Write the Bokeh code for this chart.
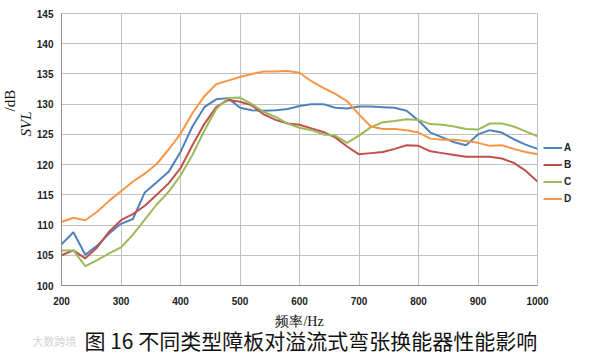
import math
from bokeh.plotting import figure
from bokeh.models import Range1d, FixedTicker, Label, Legend, LegendItem, Title
from bokeh.core.properties import value
from bokeh.embed import file_html
from bokeh.resources import INLINE

# ---- data ----
freq = list(range(200, 1001, 20))

a_svl = [106.8, 108.8, 105.1, 106.6, 108.6, 110.2, 111.0, 115.4, 117.1, 118.8,
         122.1, 126.3, 129.5, 130.8, 131.0, 129.4, 129.0, 128.9, 129.0, 129.2,
         129.7, 130.0, 130.0, 129.4, 129.3, 129.6, 129.6, 129.5, 129.4, 128.9,
         127.3, 125.3, 124.5, 123.7, 123.2, 125.0, 125.7, 125.3, 124.2, 123.3,
         122.6]
b_svl = [105.0, 105.8, 104.5, 106.3, 108.9, 110.8, 111.8, 113.2, 115.0, 116.9,
         119.4, 123.2, 126.7, 129.5, 130.7, 130.4, 129.8, 128.3, 127.4, 126.8,
         126.6, 126.0, 125.4, 124.5, 123.0, 121.7, 121.9, 122.1, 122.6, 123.2,
         123.1, 122.2, 121.9, 121.6, 121.3, 121.3, 121.3, 121.0, 120.3, 119.0,
         117.2]
c_svl = [105.8, 105.8, 103.2, 104.2, 105.3, 106.3, 108.4, 110.9, 113.4, 115.5,
         118.2, 121.6, 125.6, 129.2, 131.0, 131.1, 130.0, 128.7, 127.9, 126.8,
         126.1, 125.7, 125.0, 124.8, 123.6, 124.8, 126.2, 127.0, 127.2, 127.5,
         127.4, 126.7, 126.6, 126.3, 125.9, 125.8, 126.8, 126.8, 126.3, 125.5,
         124.7]
d_svl = [110.5, 111.2, 110.8, 112.2, 114.0, 115.6, 117.2, 118.5, 120.1, 122.5,
         125.1, 128.5, 131.3, 133.3, 133.9, 134.5, 135.0, 135.4, 135.4, 135.5,
         135.2, 133.8, 132.7, 131.7, 130.5, 128.3, 126.3, 125.9, 125.9, 125.7,
         125.3, 124.3, 124.1, 124.1, 123.9, 123.6, 123.1, 123.2, 122.6, 122.1,
         121.7]

series_names = ["A", "B", "C", "D"]
series_values = [a_svl, b_svl, c_svl, d_svl]
series_colors = ["#4F81BD", "#C0504D", "#9BBB59", "#F79646"]

x_ticks = [200, 300, 400, 500, 600, 700, 800, 900, 1000]
y_ticks = [100, 105, 110, 115, 120, 125, 130, 135, 140, 145]

x_title = "频率/Hz"
y_title_a = "SVL"
y_title_b = "/dB"
caption = "图 16  不同类型障板对溢流式弯张换能器性能影响"
watermark = "大数跨境"

# ---- figure ----
p = figure(frame_width=476, frame_height=272,
           min_border_left=61, min_border_right=64,
           min_border_top=13, min_border_bottom=75,
           x_range=Range1d(200, 1000), y_range=Range1d(100, 145),
           output_backend="svg", toolbar_location=None,
           background_fill_color="white", border_fill_color="white")

p.outline_line_color = "#c0c0c0"
p.outline_line_width = 1

grid_color = "#c0c0c0"
p.xgrid.ticker = FixedTicker(ticks=x_ticks)
p.ygrid.ticker = FixedTicker(ticks=y_ticks)
p.xgrid.grid_line_color = grid_color
p.ygrid.grid_line_color = grid_color
p.xgrid.grid_line_width = 1
p.ygrid.grid_line_width = 1

for ax, ticks in ((p.xaxis[0], x_ticks), (p.yaxis[0], y_ticks)):
    ax.ticker = FixedTicker(ticks=ticks)
    ax.major_tick_out = 0
    ax.major_tick_in = 0
    ax.minor_tick_out = 0
    ax.minor_tick_in = 0
    ax.axis_line_color = "#8c8c8c"
    ax.axis_line_width = 1
    ax.major_label_text_font = "Liberation Sans"
    ax.major_label_text_font_size = "10px"
    ax.major_label_text_font_style = "bold"
    ax.major_label_text_color = "#222222"

p.xaxis[0].major_label_standoff = 11
p.yaxis[0].major_label_standoff = 8

# x axis title
p.xaxis[0].axis_label = x_title
p.xaxis[0].axis_label_standoff = 6
p.xaxis[0].axis_label_text_font = "Liberation Serif"
p.xaxis[0].axis_label_text_font_size = "14px"
p.xaxis[0].axis_label_text_font_style = "normal"
p.xaxis[0].axis_label_text_color = "#111111"

renderers = []
for name, vals, col in zip(series_names, series_values, series_colors):
    r = p.line(freq, vals, line_color=col, line_width=2)
    renderers.append((name, r))

legend = Legend(items=[LegendItem(label=n, renderers=[r]) for n, r in renderers],
                location=(6, 78), orientation="vertical",
                padding=0, margin=0, spacing=0,
                glyph_width=19, glyph_height=17, label_height=17,
                label_standoff=2,
                label_text_font="Liberation Sans", label_text_font_size="10px",
                label_text_font_style="bold", label_text_color="#222222",
                border_line_color=None, background_fill_alpha=0)
p.add_layout(legend, "right")

# y axis title (SVL italic, /dB upright), rotated, in left side panel
p.add_layout(Label(x=8, y=174, x_units="screen", y_units="screen",
                   text=y_title_a, angle=math.pi / 2, text_align="right",
                   text_baseline="middle", text_font="Liberation Serif",
                   text_font_style="italic", text_font_size="15px",
                   text_color="#111111"), "left")
p.add_layout(Label(x=8, y=174, x_units="screen", y_units="screen",
                   text=y_title_b, angle=math.pi / 2, text_align="left",
                   text_baseline="middle", text_font="Liberation Serif",
                   text_font_size="15px", text_color="#111111"), "left")

# caption
cap = Title(text=caption, align="left", offset=23, standoff=-18,
            text_font="Noto Sans CJK SC", text_font_size="21px",
            text_font_style="normal", text_color="#111111")
p.add_layout(cap, "below")

# faint watermark at the lower left
p.add_layout(Label(x=-29, y=21, x_units="screen", y_units="screen",
                   text=watermark, text_align="left", text_baseline="middle",
                   text_font="Noto Sans CJK SC", text_font_size="11px",
                   text_color="#d4d4d4"), "below")

open("out.html", "w").write(file_html(p, INLINE))
